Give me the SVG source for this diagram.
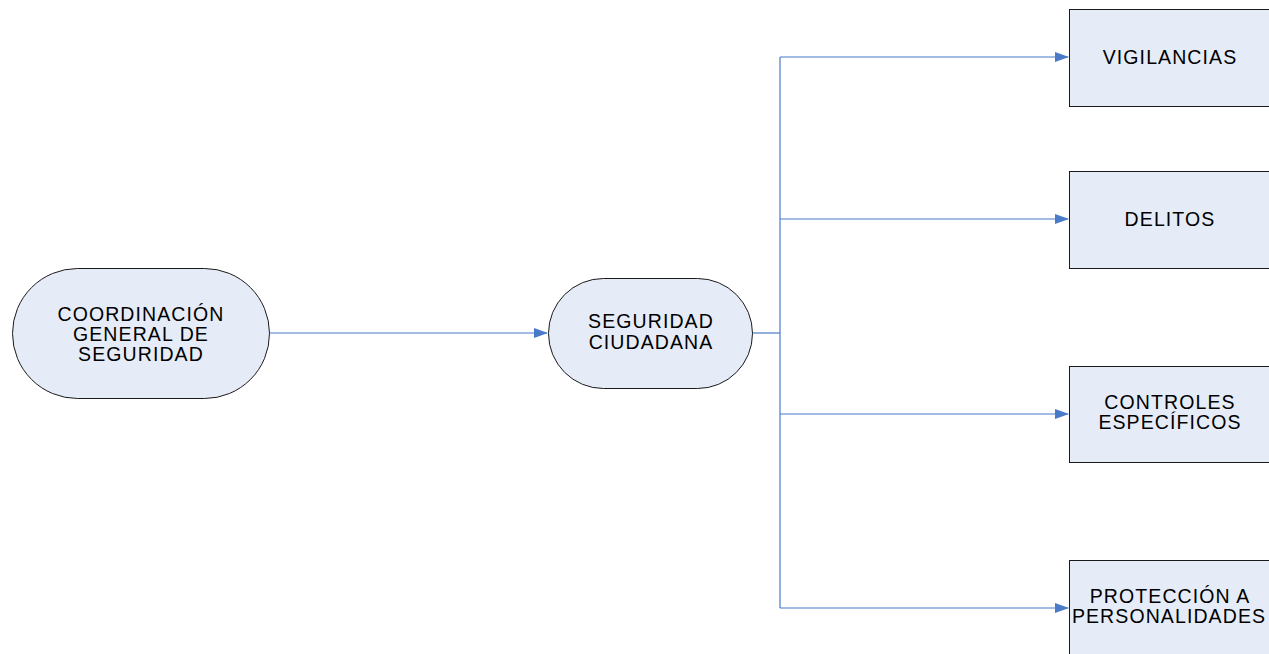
<svg xmlns="http://www.w3.org/2000/svg" width="1269" height="654" viewBox="0 0 1269 654">
<style>
.n{fill:#e6ecf7;stroke:#1a1a1a;stroke-width:1}
.t{font-family:"Liberation Sans",Arial,sans-serif;font-size:19.5px;letter-spacing:1.1px;fill:#000;text-anchor:middle}
.c{fill:none;stroke:#4a7bc8;stroke-width:1.2}
</style>
<defs>
<marker id="a" markerWidth="14" markerHeight="10" refX="13" refY="5" orient="auto" markerUnits="userSpaceOnUse">
<path d="M0,0 L14,5 L0,10 Z" fill="#4a7bc8"/>
</marker>
</defs>
<rect width="1269" height="654" fill="#fff"/>
<g id="connectors">
<line class="c" x1="269" y1="333" x2="547" y2="333" marker-end="url(#a)"/>
<polyline class="c" points="752,333 780,333"/>
<line class="c" x1="780" y1="57" x2="780" y2="608"/>
<line class="c" x1="780" y1="57" x2="1068" y2="57" marker-end="url(#a)"/>
<line class="c" x1="780" y1="219" x2="1068" y2="219" marker-end="url(#a)"/>
<line class="c" x1="780" y1="414" x2="1068" y2="414" marker-end="url(#a)"/>
<line class="c" x1="780" y1="608" x2="1068" y2="608" marker-end="url(#a)"/>
</g>
<g id="coordinacion">
<rect class="n" x="12.5" y="268.5" width="257" height="130" rx="65" ry="65"/>
<text class="t" x="141" y="321">COORDINACIÓN</text>
<text class="t" x="141" y="341">GENERAL DE</text>
<text class="t" x="141" y="361">SEGURIDAD</text>
</g>
<g id="seguridad">
<rect class="n" x="548.5" y="278.5" width="204" height="110" rx="55" ry="55"/>
<text class="t" x="651" y="328">SEGURIDAD</text>
<text class="t" x="651" y="349">CIUDADANA</text>
</g>
<g id="vigilancias">
<rect class="n" x="1069.5" y="9.5" width="205" height="97"/>
<text class="t" x="1170" y="64">VIGILANCIAS</text>
</g>
<g id="delitos">
<rect class="n" x="1069.5" y="171.5" width="205" height="97"/>
<text class="t" x="1170" y="226">DELITOS</text>
</g>
<g id="controles">
<rect class="n" x="1069.5" y="366.5" width="205" height="96"/>
<text class="t" x="1170" y="409">CONTROLES</text>
<text class="t" x="1170" y="429">ESPECÍFICOS</text>
</g>
<g id="proteccion">
<rect class="n" x="1069.5" y="560.5" width="205" height="100"/>
<text class="t" x="1170" y="603">PROTECCIÓN A</text>
<text class="t" x="1169" y="623">PERSONALIDADES</text>
</g>
</svg>
